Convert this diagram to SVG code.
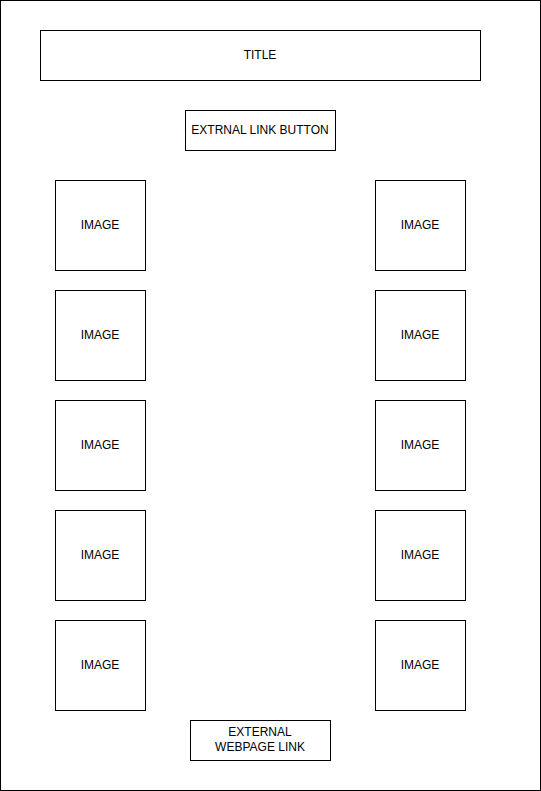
<svg xmlns="http://www.w3.org/2000/svg" width="541" height="791" viewBox="0 0 541 791">
<style>
rect{fill:#fff;stroke:#000;stroke-width:1}
text{font-family:"Liberation Sans",Arial,sans-serif;font-size:12px;fill:#000;text-anchor:middle;dominant-baseline:central}
</style>
<rect x="0.5" y="0.5" width="540" height="790"/>
<g id="title"><rect x="40.5" y="30.5" width="440" height="50"/><text x="260" y="54.5">TITLE</text></g>
<g id="extlink"><rect x="185.5" y="110.5" width="150" height="40"/><text x="260" y="129.5">EXTRNAL LINK BUTTON</text></g>
<g id="imgL1"><rect x="55.5" y="180.5" width="90" height="90"/><text x="100" y="224.5">IMAGE</text></g>
<g id="imgL2"><rect x="55.5" y="290.5" width="90" height="90"/><text x="100" y="334.5">IMAGE</text></g>
<g id="imgL3"><rect x="55.5" y="400.5" width="90" height="90"/><text x="100" y="444.5">IMAGE</text></g>
<g id="imgL4"><rect x="55.5" y="510.5" width="90" height="90"/><text x="100" y="554.5">IMAGE</text></g>
<g id="imgL5"><rect x="55.5" y="620.5" width="90" height="90"/><text x="100" y="664.5">IMAGE</text></g>
<g id="imgR1"><rect x="375.5" y="180.5" width="90" height="90"/><text x="420" y="224.5">IMAGE</text></g>
<g id="imgR2"><rect x="375.5" y="290.5" width="90" height="90"/><text x="420" y="334.5">IMAGE</text></g>
<g id="imgR3"><rect x="375.5" y="400.5" width="90" height="90"/><text x="420" y="444.5">IMAGE</text></g>
<g id="imgR4"><rect x="375.5" y="510.5" width="90" height="90"/><text x="420" y="554.5">IMAGE</text></g>
<g id="imgR5"><rect x="375.5" y="620.5" width="90" height="90"/><text x="420" y="664.5">IMAGE</text></g>
<g id="weblink"><rect x="190.5" y="720.5" width="140" height="40"/><text x="260" y="732">EXTERNAL</text><text x="260" y="747">WEBPAGE LINK</text></g>
<g id="connectors"></g>
</svg>
